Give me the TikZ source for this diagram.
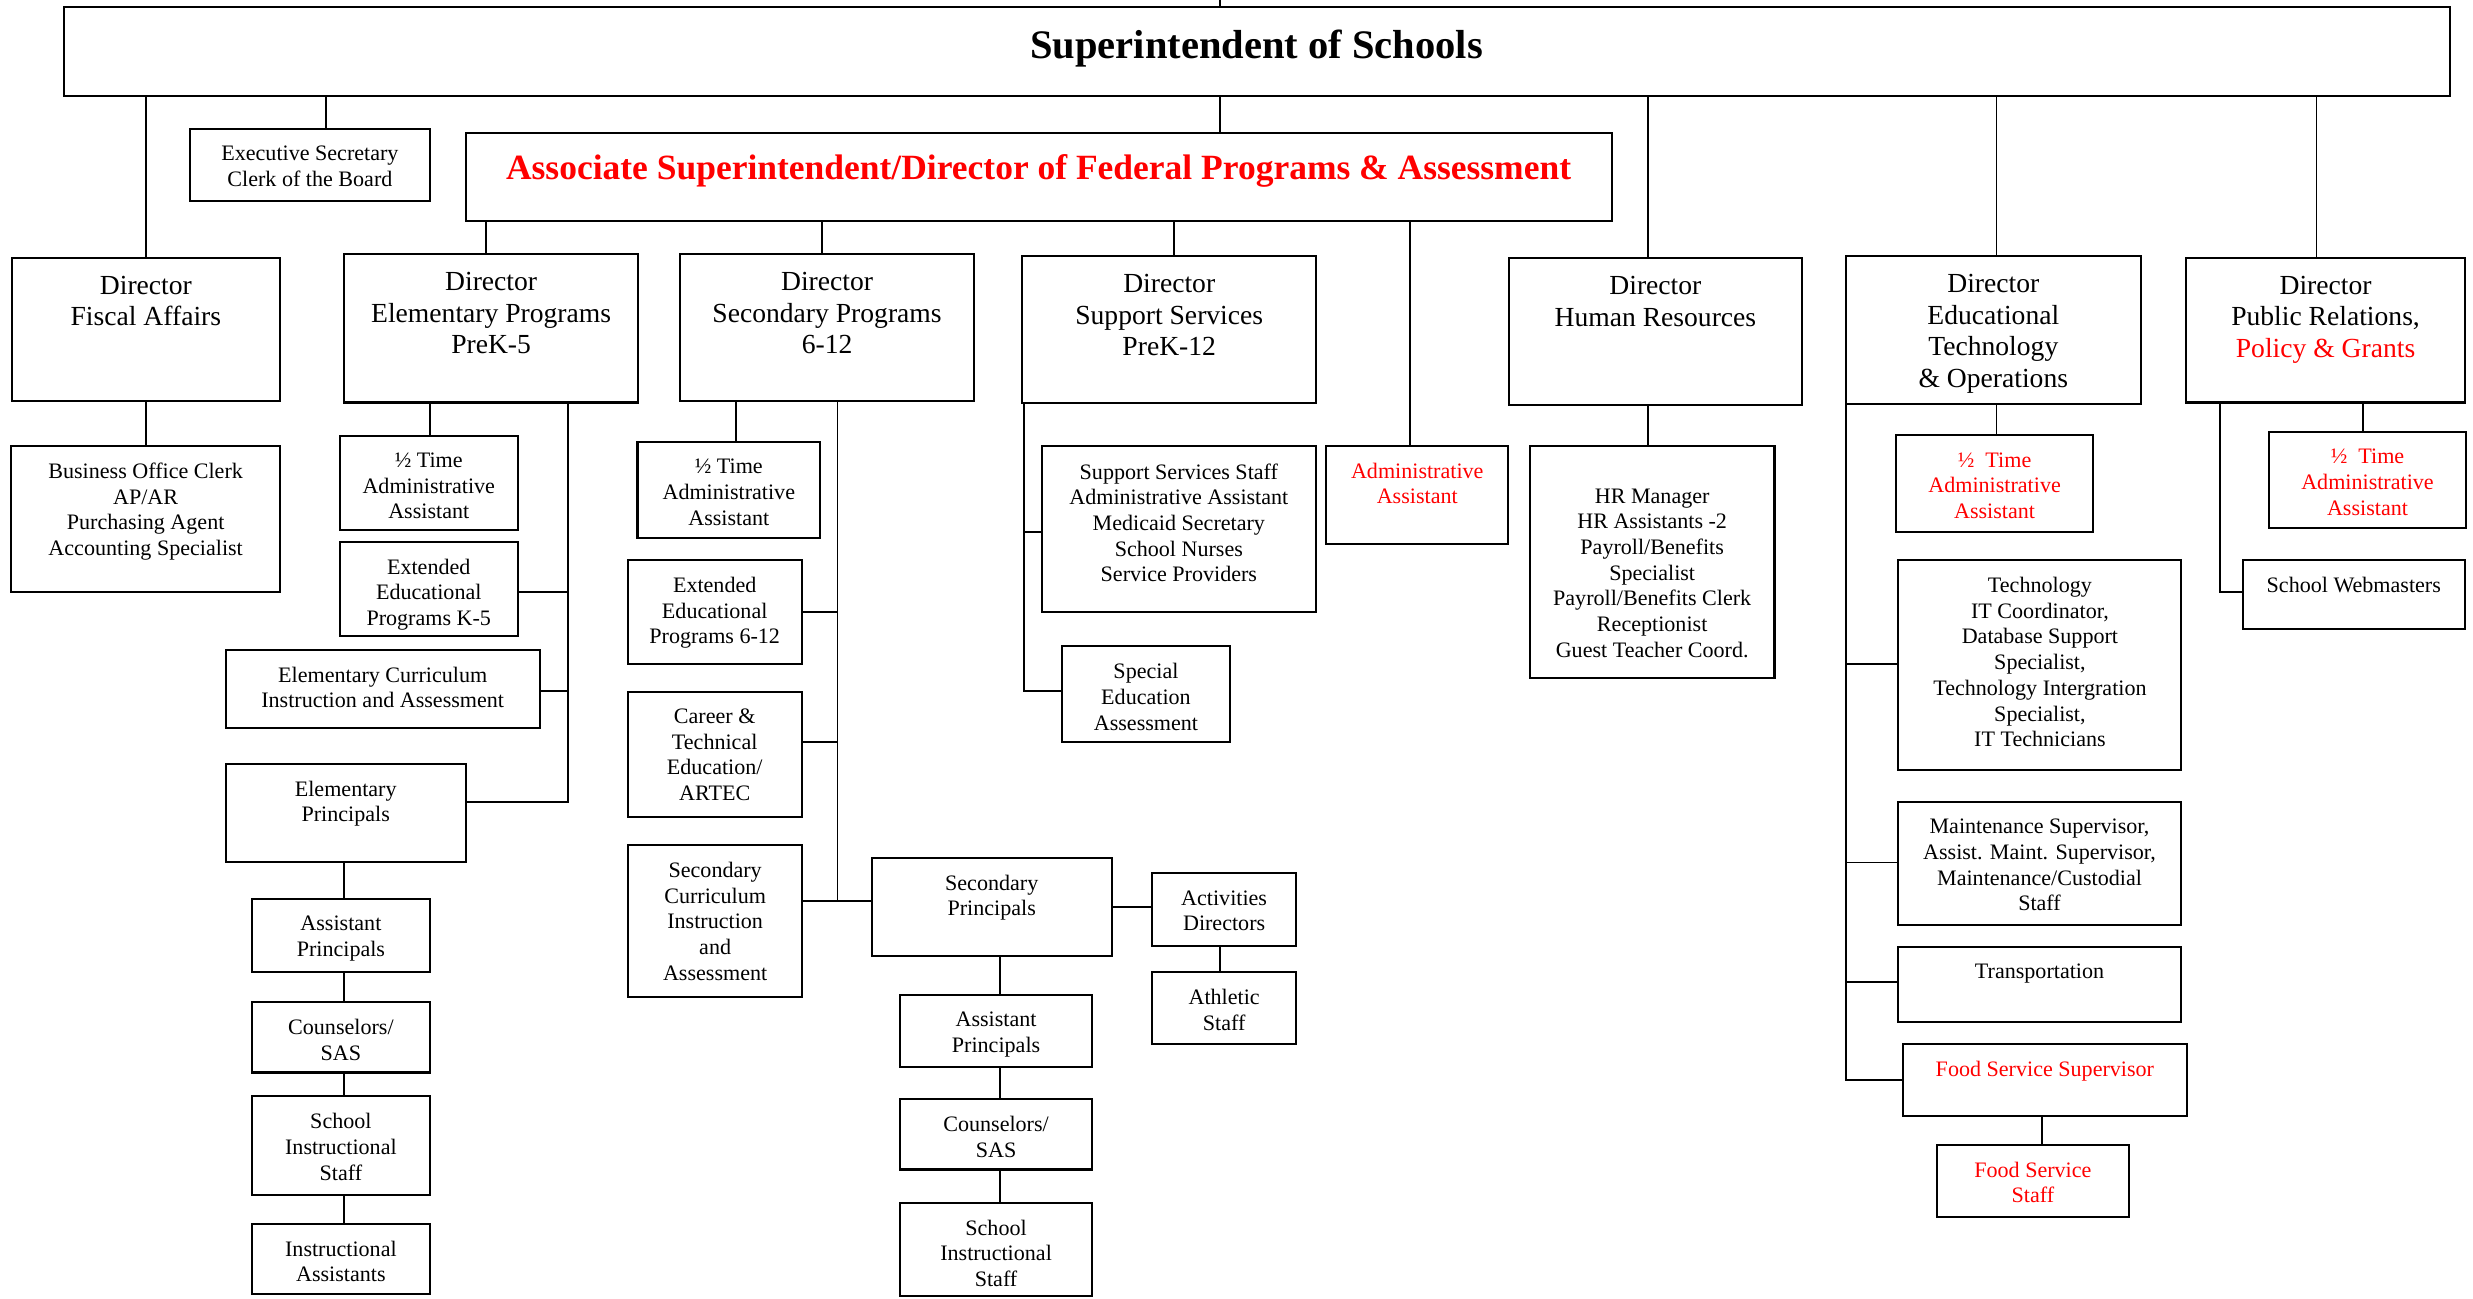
\documentclass[tikz,border=0pt]{standalone}
\usepackage{fontspec}
\setmainfont{Liberation Serif}
\begin{document}
\begin{tikzpicture}[x=1pt,y=-1pt,
  box/.style={draw, line width=1.3pt, inner sep=0pt, fill=white},
  conn/.style={line width=1.15pt},
  txts/.style={anchor=north, align=center, inner sep=0pt, font=\fontsize{14}{16.3}\selectfont, yshift=-11.3pt},
  txtd/.style={anchor=north, align=center, inner sep=0pt, font=\fontsize{17.5}{20}\selectfont, yshift=-11.9pt},
  redtxt/.style={text=red}]
\newcommand{\mkbox}[7]{%
  \node[box, minimum width={#4pt-#2pt}, minimum height={#5pt-#3pt}] (#1) at ({(#2+#4)/2},{(#3+#5)/2}) {};
  \node[#6] (#1t) at (#1.north) {#7};
}
\useasboundingbox[fill=white] (0,0) rectangle (1568,823);
\coordinate (topend) at (773.4,0);

% top level
\node[box, minimum width={1553.5pt-40.4pt}, minimum height={60.7pt-4.7pt}] (super) at ({(40.4+1553.5)/2},{(4.7+60.7)/2}) {};
\node[anchor=base, inner sep=0pt, font=\fontsize{25.7}{30}\selectfont\bfseries] (supert) at (796.8,37.3) {Superintendent of Schools};
\node[box, minimum width={1022pt-295.4pt}, minimum height={140.2pt-84.6pt}] (assoc) at ({(295.4+1022)/2},{(84.6+140.2)/2}) {};
\node[anchor=base, inner sep=0pt, text=red, font=\fontsize{22.5}{26}\selectfont\bfseries] (assoct) at (658.5,113.9) {Associate Superintendent/Director of Federal Programs \& Assessment};

\mkbox{exec}{120.3}{81.6}{272.7}{127.5}{txts}{Executive Secretary\\Clerk of the Board}

% directors
\mkbox{fiscal}{7.4}{163.4}{177.6}{254.1}{txtd}{Director\\Fiscal Affairs}
\mkbox{elem}{218.4}{161.3}{404.4}{255.2}{txtd}{Director\\Elementary Programs\\PreK-5}
\mkbox{sec}{431.2}{161.3}{617.6}{254.1}{txtd}{Director\\Secondary Programs\\6-12}
\mkbox{supp}{648.2}{162.4}{834.5}{255.4}{txtd}{Director\\Support Services\\PreK-12}
\mkbox{hr}{956.5}{163.8}{1142.7}{256.9}{txtd}{Director\\Human Resources}
\mkbox{edtech}{1170.5}{162.4}{1357.2}{256.2}{txtd}{Director\\Educational\\Technology\\\& Operations}
\mkbox{pr}{1386.2}{163.4}{1562.8}{255.2}{txtd}{Director\\Public Relations,\\\textcolor{red}{Policy \& Grants}}

% fiscal
\mkbox{boc}{7.2}{282.6}{177.5}{375.4}{txts}{Business Office Clerk\\AP/AR\\Purchasing Agent\\Accounting Specialist}

% elementary
\mkbox{ehalf}{215.5}{276.2}{328.2}{335.8}{txts}{½ Time\\Administrative\\Assistant}
\mkbox{eext}{215.5}{343.4}{328.2}{403.1}{txts}{Extended\\Educational\\Programs K-5}
\mkbox{ecurr}{143}{411.9}{342.3}{461.4}{txts}{Elementary Curriculum\\Instruction and Assessment}
\mkbox{eprin}{143}{484.2}{295.4}{546.8}{txts}{Elementary\\Principals}
\mkbox{easst}{159.7}{570.1}{272.6}{616.4}{txts}{Assistant\\Principals}
\mkbox{ecoun}{159.7}{635.4}{272.6}{680}{txts}{Counselors/\\SAS}
\mkbox{eschool}{159.7}{695}{272.6}{757.6}{txts}{School\\Instructional\\Staff}
\mkbox{einstr}{159.7}{775.8}{272.6}{820.2}{txts}{Instructional\\Assistants}

% secondary
\mkbox{shalf}{404.2}{280.2}{520}{341.1}{txts}{½ Time\\Administrative\\Assistant}
\mkbox{sext}{398}{355.1}{508.3}{421.2}{txts}{Extended\\Educational\\Programs 6-12}
\mkbox{scareer}{398}{438.6}{508.3}{517.9}{txts}{Career \&\\Technical\\Education/\\ARTEC}
\mkbox{scurr}{398.3}{535.8}{508.6}{632.4}{txts}{Secondary\\Curriculum\\Instruction\\and\\Assessment}
\mkbox{sprin}{552.6}{543.9}{705}{606.4}{txts}{Secondary\\Principals}
\mkbox{sact}{730.5}{553.8}{821.8}{599.7}{txts}{Activities\\Directors}
\mkbox{sath}{730.5}{616.2}{821.8}{661.8}{txts}{Athletic\\Staff}
\mkbox{sasst}{570.7}{631}{692.4}{676.8}{txts}{Assistant\\Principals}
\mkbox{scoun}{570.7}{697.1}{692.4}{741.5}{txts}{Counselors/\\SAS}
\mkbox{sschool}{570.7}{762.5}{692.4}{821.8}{txts}{School\\Instructional\\Staff}

% support
\mkbox{sstaff}{660.4}{283}{834.5}{387.8}{txts}{Support Services Staff\\Administrative Assistant\\Medicaid Secretary\\School Nurses\\Service Providers}
\mkbox{sped}{673.2}{409.8}{780}{470.7}{txts}{Special\\Education\\Assessment}

% admin
\mkbox{admin}{841}{282.6}{956.2}{344.7}{txts,redtxt}{Administrative\\Assistant}

% HR
\mkbox{hrstaff}{970}{282.6}{1125.1}{429.7}{txts,yshift=-16.3pt}{HR Manager\\HR Assistants -2\\Payroll/Benefits\\Specialist\\Payroll/Benefits Clerk\\Receptionist\\Guest Teacher Coord.}

% ed tech
\mkbox{thalf}{1202.3}{276}{1327}{337.3}{txts,redtxt}{½\enspace Time\\Administrative\\Assistant}
\mkbox{tech}{1203.7}{355.1}{1383.1}{488.5}{txts}{Technology\\IT Coordinator,\\Database Support\\Specialist,\\Technology Intergration\\Specialist,\\IT Technicians}
\mkbox{maint}{1203.5}{508.4}{1382.8}{586.2}{txts}{Maintenance Supervisor,\\Assist. Maint. Supervisor,\\Maintenance/Custodial\\Staff}
\mkbox{transp}{1203.5}{600.3}{1382.8}{647.9}{txts}{Transportation}
\mkbox{foodsup}{1206.7}{661.8}{1386.4}{707.3}{txts,redtxt}{Food Service Supervisor}
\mkbox{foodstaff}{1228}{725.7}{1349.9}{771.5}{txts,redtxt}{Food Service\\Staff}

% PR
\mkbox{phalf}{1438.6}{274}{1563.6}{334.8}{txts,redtxt}{½\enspace Time\\Administrative\\Assistant}
\mkbox{web}{1422}{355.3}{1562.8}{398.7}{txts}{School Webmasters}

% ---------- connectors ----------
\draw[conn] (topend) -- (super.north -| topend);
\draw[conn] (super.south -| 92.8,0) -- (fiscal.north -| 92.8,0);
\draw[conn] (super.south -| 206.7,0) -- (exec.north -| 206.7,0);
\draw[conn] (super.south -| 773.4,0) -- (assoc.north -| 773.4,0);
\draw[conn] (super.south -| 1045,0) -- (hr.north -| 1045,0);
\draw[conn] (super.south -| 1265.9,0) -- (edtech.north -| 1265.9,0);
\draw[conn] (super.south -| 1468.8,0) -- (pr.north -| 1468.8,0);

\draw[conn] (assoc.south -| 308.3,0) -- (elem.north -| 308.3,0);
\draw[conn] (assoc.south -| 521.1,0) -- (sec.north -| 521.1,0);
\draw[conn] (assoc.south -| 744.3,0) -- (supp.north -| 744.3,0);
\draw[conn] (assoc.south -| 893.9,0) -- (admin.north -| 893.9,0);

\draw[conn] (fiscal.south -| 92.8,0) -- (boc.north -| 92.8,0);

% elementary
\coordinate (espine) at (359.9,508.3);
\draw[conn] (elem.south -| 272.7,0) -- (ehalf.north -| 272.7,0);
\draw[conn] (elem.south -| espine) -- (espine) -- (eprin.east |- espine);
\draw[conn] (eext.east |- 0,375.4) -- (espine |- 0,375.4);
\draw[conn] (ecurr.east |- 0,438.2) -- (espine |- 0,438.2);
\draw[conn] (eprin.south -| 218,0) -- (easst.north -| 218,0);
\draw[conn] (easst.south -| 218,0) -- (ecoun.north -| 218,0);
\draw[conn] (ecoun.south -| 218,0) -- (eschool.north -| 218,0);
\draw[conn] (eschool.south -| 218,0) -- (einstr.north -| 218,0);

% secondary
\coordinate (sspine) at (531,571.4);
\draw[conn] (sec.south -| 466.8,0) -- (shalf.north -| 466.8,0);
\draw[conn] (sec.south -| sspine) -- (sspine);
\draw[conn] (scurr.east |- sspine) -- (sprin.west |- sspine);
\draw[conn] (sext.east |- 0,387.8) -- (sspine |- 0,387.8);
\draw[conn] (scareer.east |- 0,470.5) -- (sspine |- 0,470.5);
\draw[conn] (sprin.east |- 0,575) -- (sact.west |- 0,575);
\draw[conn] (sact.south -| 773.6,0) -- (sath.north -| 773.6,0);
\draw[conn] (sprin.south -| 633.8,0) -- (sasst.north -| 633.8,0);
\draw[conn] (sasst.south -| 633.8,0) -- (scoun.north -| 633.8,0);
\draw[conn] (scoun.south -| 633.8,0) -- (sschool.north -| 633.8,0);

% support
\coordinate (pspine) at (649.2,438.2);
\draw[conn] (supp.south -| pspine) -- (pspine) -- (sped.west |- pspine);
\draw[conn] (sstaff.west |- 0,337.3) -- (pspine |- 0,337.3);

% HR
\draw[conn] (hr.south -| 1045,0) -- (hrstaff.north -| 1045,0);

% ed tech
\coordinate (tspine) at (1170.5,684.9);
\draw[conn] (edtech.south -| 1265.9,0) -- (thalf.north -| 1265.9,0);
\draw[conn] (edtech.south -| tspine) -- (tspine) -- (foodsup.west |- tspine);
\draw[conn] (tech.west |- 0,421.2) -- (tspine |- 0,421.2);
\draw[conn] (maint.west |- 0,546.8) -- (tspine |- 0,546.8);
\draw[conn] (transp.west |- 0,622.5) -- (tspine |- 0,622.5);
\draw[conn] (foodsup.south -| 1294.6,0) -- (foodstaff.north -| 1294.6,0);

% PR
\coordinate (rspine) at (1407.7,375.2);
\draw[conn] (pr.south -| rspine) -- (rspine) -- (web.west |- rspine);
\draw[conn] (pr.south -| 1498.1,0) -- (phalf.north -| 1498.1,0);
\end{tikzpicture}
\end{document}
